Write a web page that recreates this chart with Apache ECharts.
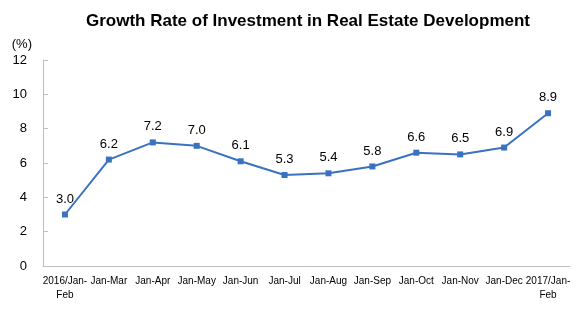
<!DOCTYPE html>
<html><head><meta charset="utf-8">
<script src="https://cdn.jsdelivr.net/npm/echarts@6/dist/echarts.min.js"></script>
<style>html,body{margin:0;padding:0;background:#fff}#c{width:580px;height:321px}</style>
</head><body><div id="c"></div>
<script>
const categories = ["2016/Jan-\nFeb","Jan-Mar","Jan-Apr","Jan-May","Jan-Jun","Jan-Jul","Jan-Aug","Jan-Sep","Jan-Oct","Jan-Nov","Jan-Dec","2017/Jan-\nFeb"];
const growthRate = [3.0, 6.2, 7.2, 7.0, 6.1, 5.3, 5.4, 5.8, 6.6, 6.5, 6.9, 8.9];
const titleText = "Growth Rate of Investment in Real Estate Development";
const unitText = "(%)";

const chart = echarts.init(document.getElementById('c'), null, {renderer:'canvas'});
chart.setOption({
  animation:false,
  title:{text:titleText,left:303,top:8,textAlign:'center',
    textStyle:{fontFamily:'Liberation Sans, Arial',fontSize:17,fontWeight:'bold',color:'#000'}},
  grid:{left:43,right:10,top:60,bottom:55},
  xAxis:{type:'category',data:categories,boundaryGap:true,
    axisLine:{lineStyle:{color:'#bfbfbf',width:1}},
    axisTick:{inside:true,length:5,lineStyle:{color:'#bfbfbf'}},
    axisLabel:{interval:0,color:'#000',fontFamily:'Liberation Sans, Arial',fontSize:10,lineHeight:14,margin:8}},
  yAxis:{type:'value',min:0,max:12,interval:2,name:unitText,nameLocation:'end',nameGap:9,
    nameTextStyle:{color:'#000',fontFamily:'Liberation Sans, Arial',fontSize:13,align:'right',padding:[0,11,0,0]},
    axisLine:{show:true,lineStyle:{color:'#bfbfbf',width:1}},
    axisTick:{show:true,inside:true,length:5,lineStyle:{color:'#bfbfbf'}},
    splitLine:{show:false},
    axisLabel:{color:'#000',fontFamily:'Liberation Sans, Arial',fontSize:13,margin:16}},
  series:[{type:'line',data:growthRate,symbol:'rect',symbolSize:6,
    lineStyle:{color:'#3a72c0',width:2},itemStyle:{color:'#3a72c0'},
    label:{show:true,position:'top',distance:6,color:'#000',fontFamily:'Liberation Sans, Arial',fontSize:13,
      formatter:p=>p.value.toFixed(1)}}]
});
</script></body></html>
